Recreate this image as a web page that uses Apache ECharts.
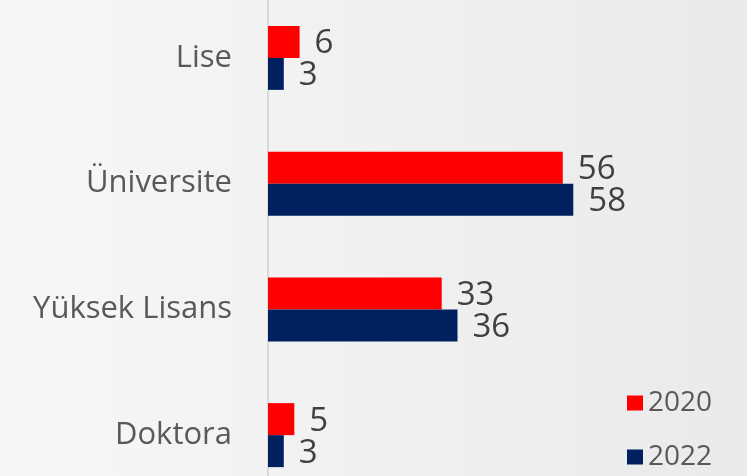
<!DOCTYPE html>
<html>
<head>
<meta charset="utf-8">
<script src="https://cdn.jsdelivr.net/npm/echarts@6/dist/echarts.min.js"></script>
<style>
  html, body { margin: 0; padding: 0; }
  #chart { width: 747px; height: 476px; }
</style>
</head>
<body>
<div id="chart"></div>
<script>
// education levels, top to bottom
const categories = ['Lise', 'Üniversite', 'Yüksek Lisans', 'Doktora'];
const values2020 = [6, 56, 33, 5];
const values2022 = [3, 58, 36, 3];
const seriesNames = ['2020', '2022'];

const chart = echarts.init(document.getElementById('chart'));

const labelStyle = {
    show: true,
    position: 'right',
    distance: 15,
    offset: [0, 2],
    color: '#404040',
    fontSize: 33,
    fontFamily: 'Open Sans'
};

const option = {
    backgroundColor: {
        type: 'linear', x: 0, y: 0, x2: 1, y2: 0,
        colorStops: [
            { offset: 0, color: '#f7f7f7' },
            { offset: 1, color: '#eaeaea' }
        ]
    },
    animation: false,
    grid: {
        left: 268,
        right: 0,
        top: -5,
        bottom: -22,
        containLabel: false,
        outerBoundsMode: 'none'
    },
    legend: {
        orient: 'vertical',
        left: 627,
        top: 389,
        padding: 0,
        itemWidth: 16,
        itemHeight: 15,
        itemGap: 26,
        icon: 'rect',
        textStyle: {
            color: '#595959',
            fontSize: 28,
            fontFamily: 'Open Sans'
        },
        data: seriesNames
    },
    xAxis: {
        type: 'value',
        min: 0,
        max: 91,
        show: false
    },
    yAxis: {
        type: 'category',
        inverse: true,
        data: categories,
        axisLine: { show: true, lineStyle: { color: '#d9d9d9', width: 2 } },
        axisTick: { show: false },
        axisLabel: {
            margin: 36,
            color: '#595959',
            fontSize: 31,
            fontFamily: 'Open Sans'
        }
    },
    series: [
        {
            name: seriesNames[0],
            type: 'bar',
            data: values2020,
            barWidth: 32,
            barGap: '0%',
            itemStyle: { color: '#ff0000' },
            label: labelStyle
        },
        {
            name: seriesNames[1],
            type: 'bar',
            data: values2022,
            barWidth: 32,
            barGap: '0%',
            itemStyle: { color: '#002060' },
            label: labelStyle
        }
    ]
};

chart.setOption(option);
</script>
</body>
</html>
